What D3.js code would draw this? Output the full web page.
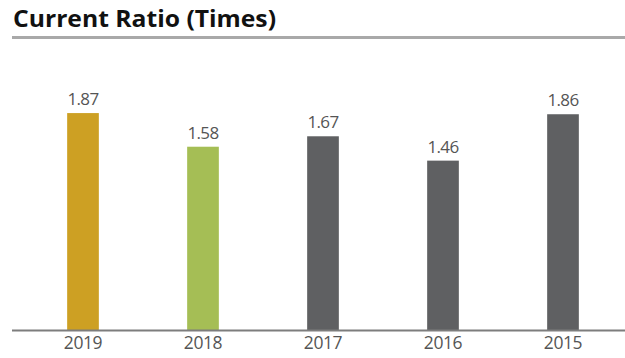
<!DOCTYPE html>
<html>
<head>
<meta charset="utf-8">
<script src="https://cdn.jsdelivr.net/npm/d3@7"></script>
<style>
  html, body { margin: 0; padding: 0; background: #fff; }
  svg { display: block; }
</style>
</head>
<body>
<svg id="chart" width="625" height="358"></svg>
<script>
// Current ratio by year
const years = ["2019", "2018", "2017", "2016", "2015"];
const ratios = [1.87, 1.58, 1.67, 1.46, 1.86];
const barColors = ["#CDA023", "#A5BE55", "#5F6062", "#5F6062", "#5F6062"];
const title = "Current Ratio (Times)";

const svg = d3.select("#chart");

const left = 12, right = 625, baseline = 330;

const x = d3.scaleBand()
  .domain(years)
  .range([23, 623])
  .paddingInner(0.736)
  .paddingOuter(0.368);

const y = d3.scaleLinear()
  .domain([0, 2.5])
  .range([baseline, 40]);

// Title
const titleText = svg.append("text")
  .attr("x", 13)
  .attr("y", 27)
  .attr("font-family", "'Open Sans', sans-serif")
  .attr("font-weight", 700)
  .attr("font-size", 24)
  .attr("fill", "#111")
  .text(title);
titleText.attr("textLength", 263).attr("lengthAdjust", "spacingAndGlyphs");

// Rule under title
svg.append("line")
  .attr("x1", left).attr("x2", right)
  .attr("y1", 37.5).attr("y2", 37.5)
  .attr("stroke", "#a9a9a9")
  .attr("stroke-width", 3);

// Bars
svg.append("g")
  .selectAll("rect")
  .data(years)
  .join("rect")
  .attr("x", d => x(d))
  .attr("width", x.bandwidth())
  .attr("y", (d, i) => y(ratios[i]))
  .attr("height", (d, i) => baseline - y(ratios[i]))
  .attr("fill", (d, i) => barColors[i]);

// Value labels
svg.append("g")
  .selectAll("text")
  .data(years)
  .join("text")
  .attr("x", d => x(d) + x.bandwidth() / 2)
  .attr("y", (d, i) => y(ratios[i]) - 8)
  .attr("text-anchor", "middle")
  .attr("font-family", "'Open Sans', sans-serif")
  .attr("font-size", 17)
  .attr("letter-spacing", -0.6)
  .attr("fill", "#555")
  .text((d, i) => ratios[i].toFixed(2));

// Baseline axis with year labels
const axis = svg.append("g")
  .attr("transform", `translate(0,${baseline})`)
  .call(d3.axisBottom(x).tickSize(0).tickPadding(7));
axis.select(".domain").remove();
axis.selectAll("text")
  .attr("font-family", "'Open Sans', sans-serif")
  .attr("font-size", 17.5)
  .attr("letter-spacing", -0.4)
  .attr("fill", "#555");

svg.append("line")
  .attr("x1", left).attr("x2", right)
  .attr("y1", baseline + 0.5).attr("y2", baseline + 0.5)
  .attr("stroke", "#7d7d7d")
  .attr("stroke-width", 2);
</script>
</body>
</html>
